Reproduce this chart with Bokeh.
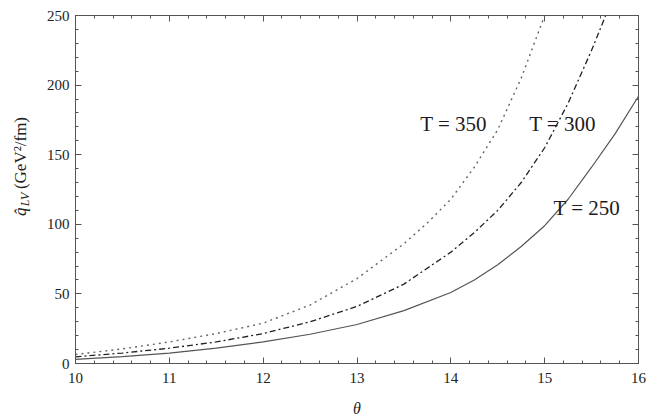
import math
from bokeh.plotting import figure
from bokeh.layouts import row
from bokeh.models import Range1d, LinearAxis, SingleIntervalTicker, CustomLabelingPolicy
from bokeh.embed import file_html
from bokeh.resources import INLINE
from bokeh.core.properties import value

# ---- data ----
x_250 = [10, 10.5, 11, 11.5, 12, 12.5, 13, 13.5, 14, 14.25, 14.5, 14.75, 15, 15.25, 15.5, 15.75, 16]
y_250 = [3, 5, 7.5, 11, 15.5, 21, 28, 38, 51, 60, 71, 84, 99, 118, 141, 165, 192]

x_300 = [10, 10.5, 11, 11.5, 12, 12.5, 13, 13.5, 14, 14.25, 14.5, 14.75, 15, 15.25, 15.5, 15.65]
y_300 = [4.8, 7.5, 11, 15.5, 21.5, 30, 41, 57, 80, 94, 110, 130, 155, 187, 225, 250]

x_350 = [10, 10.5, 11, 11.5, 12, 12.5, 13, 13.5, 13.75, 14, 14.25, 14.5, 14.75, 15]
y_350 = [6.5, 10.5, 15.5, 21.5, 29, 42, 61, 86, 101, 118, 141, 168, 205, 250]

label_text = ["T = 350", "T = 300", "T = 250"]
label_x = [14.03, 15.19, 15.45]
label_y = [172, 172, 112]

x_range = (10, 16)
y_range = (0, 250)

SERIF = "Liberation Serif"
AX = "#555555"
TXT = "#222222"
H = 414
LW = 34  # width of the strip holding the y-axis title

p = figure(width=647 - LW, height=H, output_backend="svg", toolbar_location=None,
           x_range=Range1d(*x_range), y_range=Range1d(*y_range),
           frame_width=563, frame_height=348,
           min_border_left=75 - LW, min_border_right=9, min_border_top=15, min_border_bottom=51)
p.background_fill_color = "white"
p.border_fill_color = "white"
p.outline_line_color = AX
p.grid.visible = False

xt = SingleIntervalTicker(interval=1, num_minor_ticks=5)
yt = SingleIntervalTicker(interval=50, num_minor_ticks=5)

no_labels = CustomLabelingPolicy(code="""
const all = [];
for (const i of indices) all.push(i);
for (const i of all) indices.unset(i);
return indices;
""")

def style(ax, labels=True):
    ax.axis_line_color = AX
    ax.major_tick_line_color = AX
    ax.minor_tick_line_color = AX
    ax.major_tick_in = 6
    ax.major_tick_out = 0
    ax.minor_tick_in = 3
    ax.minor_tick_out = 0
    ax.major_label_text_font = SERIF
    ax.major_label_text_font_size = "15px"
    ax.major_label_text_color = TXT
    if not labels:
        ax.major_label_policy = no_labels
        ax.major_label_standoff = 0

p.xaxis.ticker = xt
p.yaxis.ticker = yt
style(p.xaxis[0])
style(p.yaxis[0])
p.xaxis.major_label_standoff = 9
p.yaxis.major_label_standoff = 6
p.xaxis.axis_label = "θ"
p.xaxis.axis_label_text_font = SERIF
p.xaxis.axis_label_text_font_style = "italic"
p.xaxis.axis_label_text_font_size = "16px"
p.xaxis.axis_label_text_color = TXT
p.xaxis.axis_label_standoff = 14

top = LinearAxis(ticker=xt)
style(top, labels=False)
p.add_layout(top, "above")
right = LinearAxis(ticker=yt)
style(right, labels=False)
p.add_layout(right, "right")

# curves
p.line(x_250, y_250, line_color="#555555", line_width=1.2)
p.line(x_300, y_300, line_color="#222222", line_width=1.3, line_dash="6 3 2 3")
p.line(x_350, y_350, line_color="#666666", line_width=1.4, line_dash="2 4")

p.text(x=label_x, y=label_y, text=label_text, text_font=value(SERIF),
       text_font_size="21px", text_align="center", text_baseline="middle",
       text_color="#221a22")

# narrow strip with the rotated y-axis title (pixel coordinates, y from bottom)
t = figure(width=LW, height=H, output_backend="svg", toolbar_location=None,
           x_range=Range1d(0, LW), y_range=Range1d(0, H),
           min_border=0)
t.axis.visible = False
t.grid.visible = False
t.outline_line_color = None
t.background_fill_color = "white"
t.border_fill_color = "white"
rot = math.pi / 2
t.text(x=[20], y=[H - 237], text=["q\u0302"], angle=rot, text_font=value(SERIF),
       text_font_style="italic", text_font_size="17px", text_align="center",
       text_baseline="middle", text_color=TXT)
t.text(x=[24], y=[H - 222], text=["LV"], angle=rot, text_font=value(SERIF),
       text_font_style="italic", text_font_size="12px", text_align="center",
       text_baseline="middle", text_color=TXT)
t.text(x=[19.5], y=[H - 166], text=["(GeV²/fm)"], angle=rot, text_font=value(SERIF),
       text_font_size="17px", text_align="center", text_baseline="middle",
       text_color=TXT)

layout = row(t, p, spacing=0)
open("out.html", "w").write(file_html(layout, INLINE))
